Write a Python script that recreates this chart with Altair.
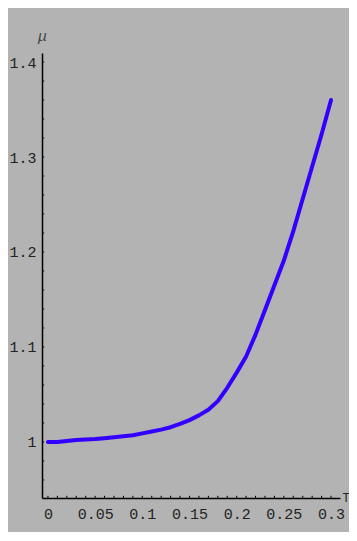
import altair as alt
import pandas as pd

# Curve values
T = [0.00, 0.01, 0.02, 0.03, 0.04, 0.05, 0.06, 0.07, 0.08, 0.09, 0.10,
     0.11, 0.12, 0.13, 0.14, 0.15, 0.16, 0.17, 0.18, 0.19, 0.20,
     0.21, 0.22, 0.23, 0.24, 0.25, 0.26, 0.27, 0.28, 0.29, 0.30]
MU = [1.000, 1.000, 1.001, 1.002, 1.0025, 1.003, 1.004, 1.005, 1.006, 1.007, 1.009,
      1.011, 1.013, 1.0155, 1.019, 1.023, 1.028, 1.034, 1.043, 1.057, 1.073,
      1.090, 1.113, 1.139, 1.165, 1.191, 1.222, 1.256, 1.290, 1.324, 1.360]

# Axis ticks and labels
X_TICKS = [round(i * 0.01, 2) for i in range(31)]
Y_TICKS = [round(0.96 + i * 0.02, 2) for i in range(23)]
X_LABELS = [0, 0.05, 0.1, 0.15, 0.2, 0.25, 0.3]
Y_LABELS = [1.0, 1.1, 1.2, 1.3, 1.4]
X_DOMAIN = [-0.0063, 0.3095]
Y_DOMAIN = [0.941, 1.4095]
TICK_LEN = 2.2 / 945

df = pd.DataFrame({"T": T, "mu": MU})
df_xt = pd.DataFrame({"T": X_TICKS,
                      "mu": [Y_DOMAIN[0]] * len(X_TICKS),
                      "mu2": [Y_DOMAIN[0] + TICK_LEN] * len(X_TICKS)})
df_yt = pd.DataFrame({"mu": Y_TICKS,
                      "T": [X_DOMAIN[0]] * len(Y_TICKS),
                      "T2": [X_DOMAIN[0] + TICK_LEN] * len(Y_TICKS)})

FONT = "Liberation Mono"
TXT = "#222222"

xscale = alt.Scale(domain=X_DOMAIN, nice=False, zero=False)
yscale = alt.Scale(domain=Y_DOMAIN, nice=False, zero=False)

line = alt.Chart(df).mark_line(
    color="#3300ff", strokeWidth=4, strokeCap="round", strokeJoin="round"
).encode(
    x=alt.X("T:Q", scale=xscale, axis=alt.Axis(
        values=X_LABELS, format=".2~f", ticks=False, grid=False,
        domainColor="black", domainWidth=1.5,
        labelFont=FONT, labelFontSize=15, labelColor=TXT, labelPadding=8,
        title="T", titleFont=FONT, titleFontSize=12, titleFontWeight="normal",
        titleColor=TXT, titleAngle=0, titleAlign="left", titleBaseline="middle",
        titleX=300, titleY=-1,
    )),
    y=alt.Y("mu:Q", scale=yscale, axis=alt.Axis(
        values=Y_LABELS, format=".1~f", ticks=False, grid=False,
        domainColor="black", domainWidth=1.5,
        labelFont=FONT, labelFontSize=15, labelColor=TXT, labelPadding=6,
        title="μ", titleFont=FONT, titleFontSize=15, titleFontStyle="italic",
        titleFontWeight="normal", titleColor="#444444", titleAngle=0,
        titleAlign="center", titleBaseline="middle", titleX=0, titleY=-18,
    )),
)

xt = alt.Chart(df_xt).mark_rule(color="black", strokeWidth=1).encode(
    x=alt.X("T:Q", scale=xscale),
    y=alt.Y("mu:Q", scale=yscale),
    y2="mu2:Q",
)

yt = alt.Chart(df_yt).mark_rule(color="black", strokeWidth=1).encode(
    y=alt.Y("mu:Q", scale=yscale),
    x=alt.X("T:Q", scale=xscale),
    x2="T2:Q",
)

chart = alt.layer(line, xt, yt).properties(
    width=298, height=445,
    autosize=alt.AutoSizeParams(type="none"),
    padding={"left": 34, "top": 45, "right": 9, "bottom": 34},
    background="#b3b3b3",
).configure_view(stroke=None)

chart.save("out.html", embed_options={"renderer": "svg", "actions": False})
